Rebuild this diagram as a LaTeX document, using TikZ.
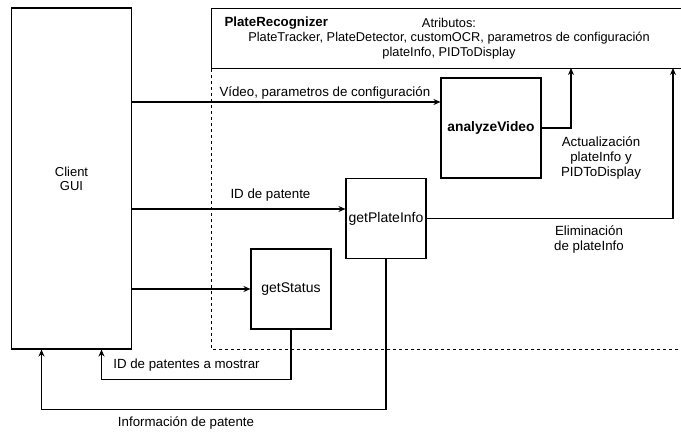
\documentclass[tikz,border=0pt]{standalone}
\usepackage{fontspec}
\setmainfont{Liberation Sans}
\usetikzlibrary{positioning, arrows.meta}

\begin{document}
\begin{tikzpicture}[
        x=1pt, y=-1pt,
        font=\fontsize{13.3}{14}\selectfont,
        block/.style={rectangle, draw, line width=1.1pt, inner sep=2pt, font=\fontsize{14}{16}\selectfont},
        frame/.style={draw, line width=1.1pt, inner sep=0pt},
        boundary/.style={line width=0.8pt, dash pattern=on 3pt off 3pt},
        flow/.style={->, >={Stealth[length=7pt, width=6pt]}, line width=1.1pt}
    ]
        \useasboundingbox (0,0) rectangle (681,434);

        % Client
        \node[block, minimum width=120pt, minimum height=341pt, align=center, font=\fontsize{13}{14}\selectfont] (client) at (71.5,178.5) {Client\\GUI};

        % PlateRecognizer
        \node[frame, minimum width=480pt, minimum height=60pt, anchor=north west] (recognizer) at (211,8) {};
        \node[anchor=west, font=\bfseries\fontsize{13.3}{15}\selectfont] (name) at (221,23) {PlateRecognizer};
        \node[align=center, font=\fontsize{12.8}{14.5}\selectfont] (attrs) at (449,38.5)
            {Atributos:\\PlateTracker, PlateDetector, customOCR, parametros de configuración\\plateInfo, PIDToDisplay};
        \draw[boundary] (recognizer.south west) |- (690,349);

        % Methods
        \node[block, minimum size=100pt, font=\bfseries\fontsize{13.8}{16}\selectfont] (analyze) at (491,128) {analyzeVideo};
        \node[block, minimum size=80pt] (plateinfo) at (386,218.5) {getPlateInfo};
        \node[block, minimum size=80pt] (status) at (291,289) {getStatus};

        % Calls from the client
        \coordinate (video in) at ([yshift=26pt]analyze.west);
        \coordinate (id in) at ([yshift=9.5pt]plateinfo.west);
        \draw[flow] (client.east |- video in) -- (video in);
        \draw[flow] (client.east |- id in) -- (id in);
        \draw[flow] (client.east |- status.west) -- (status.west);
        \node[anchor=west] at (216,93) {Vídeo, parametros de configuración};
        \node[above=4pt of id in, xshift=-75pt] {ID de patente};

        % Updates of the attributes
        \coordinate (update) at (571,68);
        \coordinate (remove) at (673,68);
        \draw[flow] (analyze.east) -| (update);
        \draw[flow] (plateinfo.east) -| (remove);
        \node[align=center, font=\fontsize{13.3}{15}\selectfont] at (601,158) {Actualización\\plateInfo y\\PIDToDisplay};
        \node[align=center, font=\fontsize{13.3}{15}\selectfont] at (589,239.5) {Eliminación\\de plateInfo};

        % Answers to the client
        \coordinate (ids back) at ([xshift=30pt]client.south);
        \coordinate (info back) at ([xshift=-30pt]client.south);
        \draw[flow] (status.south) -- ++(0,50) -| (ids back);
        \draw[flow] (plateinfo.south) -- ++(0,150.5) -| (info back);
        \node at (186.5,365) {ID de patentes a mostrar};
        \node at (186,423) {Información de patente};

    \end{tikzpicture}
\end{document}
